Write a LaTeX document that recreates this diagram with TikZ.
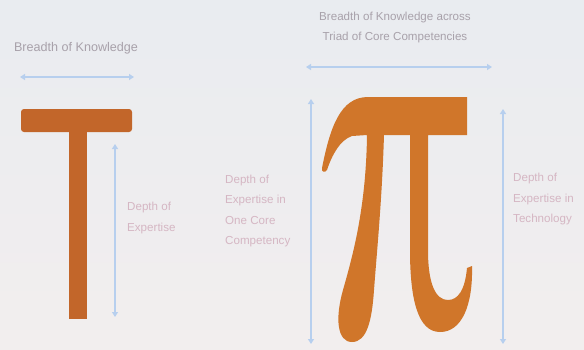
\documentclass[tikz,border=0pt]{standalone}
\usepackage{fontspec}
\setmainfont{Liberation Sans}
\usetikzlibrary{arrows.meta}

\definecolor{bgtop}{HTML}{E9ECF0}
\definecolor{bgbot}{HTML}{F2EEEE}
\definecolor{tcol}{HTML}{C2662A}
\definecolor{picol}{HTML}{D0762A}
\definecolor{arrcol}{HTML}{B7CFEE}
\definecolor{headcol}{HTML}{A8A1AA}
\definecolor{depthcol}{HTML}{D5B6C3}

\tikzset{
  dimarrow/.style={draw=arrcol, line width=2pt, {Triangle[width=6pt,length=5pt]}-{Triangle[width=6pt,length=5pt]}},
  headtext/.style={text=headcol, inner sep=0pt, align=center, font=\fontsize{11.6}{20}\selectfont},
  depthtext/.style={text=depthcol, inner sep=0pt, align=left, anchor=west, font=\fontsize{11.6}{20.5}\selectfont}
}

\begin{document}
\begin{tikzpicture}[x=1pt,y=-1pt]
\useasboundingbox (0,0) rectangle (584,349);
\shade[top color=bgtop, bottom color=bgbot] (0,0) rectangle (584,349);

% T shape
\fill[tcol, rounded corners=3pt] (21,109) rectangle (132,132);
\fill[tcol] (69,131) rectangle (87,319);

\node[headtext, font=\fontsize{12.6}{20}\selectfont] (tbreadth) at (76,48) {Breadth of Knowledge};
\coordinate (tbl) at (20,77);
\coordinate (tbr) at (134,77);
\draw[dimarrow] (tbl) -- (tbr);

\coordinate (tdt) at (115,144);
\coordinate (tdb) at (115,317);
\draw[dimarrow] (tdt) -- (tdb);
\node[depthtext] (tdepth) at (127,218) {Depth of\\Expertise};

% Pi shape
\fill[picol] (322,168) .. controls (330,128) and (340,97) .. (368,97)
  -- (467,97) -- (467,135) -- (428,135)
  -- (428,250) .. controls (428,285) and (436,300) .. (448,300)
  .. controls (458,300) and (465,290) .. (467,268)
  -- (472,266) .. controls (473,305) and (462,332) .. (440,332)
  .. controls (418,332) and (410,300) .. (410,250)
  -- (410,135) -- (384,135)
  .. controls (382,200) and (377,250) .. (374,290)
  .. controls (372,320) and (367,342) .. (352,342)
  .. controls (337,342) and (335,318) .. (343,290)
  .. controls (352,258) and (366,210) .. (367,135)
  -- (352,136) .. controls (340,140) and (332,155) .. (327,170)
  .. controls (325,173) and (321,172) .. (322,168) -- cycle;

\node[headtext] (pibreadth) at (395,27) {Breadth of Knowledge across\\Triad of Core Competencies};
\coordinate (pbl) at (306,67);
\coordinate (pbr) at (492,67);
\draw[dimarrow] (pbl) -- (pbr);

\coordinate (plt) at (311,99);
\coordinate (plb) at (311,344);
\draw[dimarrow] (plt) -- (plb);
\node[depthtext] (pidepth) at (225,211) {Depth of\\Expertise in\\One Core\\Competency};

\coordinate (prt) at (503,109);
\coordinate (prb) at (503,344);
\draw[dimarrow] (prt) -- (prb);
\node[depthtext] (techdepth) at (513,199) {Depth of\\Expertise in\\Technology};
\end{tikzpicture}
\end{document}
